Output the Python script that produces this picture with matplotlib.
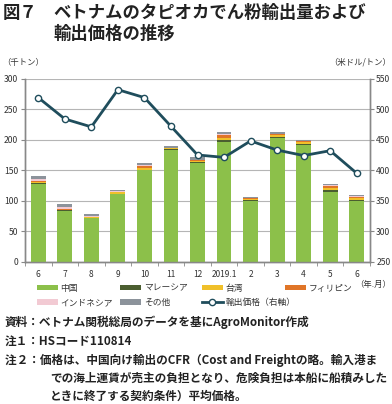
import matplotlib.pyplot as plt
import numpy as np

plt.rcParams['font.family'] = ['Noto Sans CJK JP', 'DejaVu Sans']

# 月ラベル
months = ['6', '7', '8', '9', '10', '11', '12', '2019.1', '2', '3', '4', '5', '6']
# 輸出量（千トン）
china = [128, 83, 71, 111, 150, 183, 161, 197, 99, 203, 191, 115, 99]
malaysia = [1, 1, 1, 0, 1, 1, 2, 3, 2, 1, 2, 3, 2]
taiwan = [2, 1, 1, 3, 3, 2, 2, 3, 2, 3, 3, 3, 3]
philippines = [2, 1, 0, 0, 3, 1, 1, 5, 1, 2, 2, 3, 2]
indonesia = [3, 3, 2, 2, 1, 0, 1, 1, 0, 0, 0, 1, 1]
others = [4, 6, 4, 1, 3, 2, 4, 3, 2, 3, 2, 3, 2]
# 輸出価格（米ドル/トン）
price = [519, 484, 471, 532, 519, 472, 425, 421, 448, 433, 424, 432, 395]

series = [
    ('中国', china, '#8cc04a'),
    ('マレーシア', malaysia, '#4b5e30'),
    ('台湾', taiwan, '#f0c02a'),
    ('フィリピン', philippines, '#e07528'),
    ('インドネシア', indonesia, '#f2cad3'),
    ('その他', others, '#8c939b'),
]

fig = plt.figure(figsize=(3.92, 4.04), dpi=100)
ax = fig.add_axes([25 / 392, 1 - 261.7 / 404, 345 / 392, 183 / 404])
ax2 = ax.twinx()

x = np.arange(len(months))
bottom = np.zeros(len(months))
handles = {}
for name, vals, col in series:
    h = ax.bar(x, vals, 0.56, bottom=bottom, color=col, label=name, zorder=3)
    handles[name] = h
    bottom += np.array(vals)

ln, = ax2.plot(x, price, color='#1f4d5c', linewidth=2, marker='o', markersize=4.5,
               markerfacecolor='white', markeredgecolor='#1f4d5c', markeredgewidth=1,
               label='輸出価格（右軸）', zorder=5)
handles['輸出価格（右軸）'] = ln

ax.set_xlim(-0.5, 12.5)
ax.set_ylim(0, 300)
ax2.set_ylim(250, 550)
ax.set_yticks(np.arange(0, 301, 50))
ax2.set_yticks(np.arange(250, 551, 50))
ax.set_xticks(x)
ax.set_xticklabels(months)
ax.set_xticks(np.arange(-0.5, 13, 1), minor=True)
ax.tick_params(axis='x', which='major', length=0, labelsize=6, colors='#333333', pad=6)
ax.tick_params(axis='x', which='minor', length=3, color='#888888')
ax.tick_params(axis='y', labelsize=6.2, colors='#333333', length=3, color='#888888', pad=2)
ax2.tick_params(axis='y', labelsize=6.2, colors='#333333', length=3, color='#888888', pad=1.5)

ax.grid(axis='y', color='#b5b5b5', linewidth=0.8, zorder=0)
ax.set_axisbelow(True)
for a in (ax, ax2):
    a.spines['top'].set_visible(False)
    for s in ('left', 'right', 'bottom'):
        a.spines[s].set_color('#888888')
        a.spines[s].set_linewidth(1)

# タイトル
fig.text(3 / 392, 1 - 13 / 404, '図７', fontsize=12.5, fontweight='bold', va='center', color='#222222')
fig.text(53 / 392, 1 - 13 / 404, 'ベトナムのタピオカでん粉輸出量および', fontsize=12.5,
         fontweight='bold', va='center', color='#222222')
fig.text(53 / 392, 1 - 34 / 404, '輸出価格の推移', fontsize=12.5, fontweight='bold',
         va='center', color='#222222')

# 単位
fig.text(2 / 392, 1 - 62 / 404, '（千トン）', fontsize=6, va='center', color='#333333')
fig.text(391 / 392, 1 - 62 / 404, '（米ドル/トン）', fontsize=6, va='center', ha='right', color='#333333')
fig.text(391 / 392, 1 - 284 / 404, '（年.月）', fontsize=6, va='center', ha='right', color='#333333')

# 凡例（列ごとに配置）
columns = [
    (37, ['中国', 'インドネシア']),
    (120, ['マレーシア', 'その他']),
    (202, ['台湾', '輸出価格（右軸）']),
    (285, ['フィリピン']),
]
for cx, names in columns:
    leg = fig.legend([handles[k] for k in names], names, loc='upper left',
                     bbox_to_anchor=(cx / 392, 1 - 283.5 / 404), frameon=False, fontsize=6.3,
                     handlelength=2.4, handleheight=0.6, handletextpad=0.3,
                     labelspacing=0.65, borderaxespad=0, borderpad=0)
    for t in leg.get_texts():
        t.set_color('#333333')

# 注記
notes = [
    (5, 322, '資料：ベトナム関税総局のデータを基にAgroMonitor作成'),
    (5, 341, '注１：HSコード110814'),
    (5, 360, '注２：価格は、中国向け輸出のCFR（Cost and Freightの略。輸入港ま'),
    (50, 378, 'での海上運賃が売主の負担となり、危険負担は本船に船積みした'),
    (50, 396, 'ときに終了する契約条件）平均価格。'),
]
for nx, ny, s in notes:
    fig.text(nx / 392, 1 - ny / 404, s, fontsize=8.4, fontweight='bold', va='center', color='#222222')

fig.savefig('out.png', dpi=100)
